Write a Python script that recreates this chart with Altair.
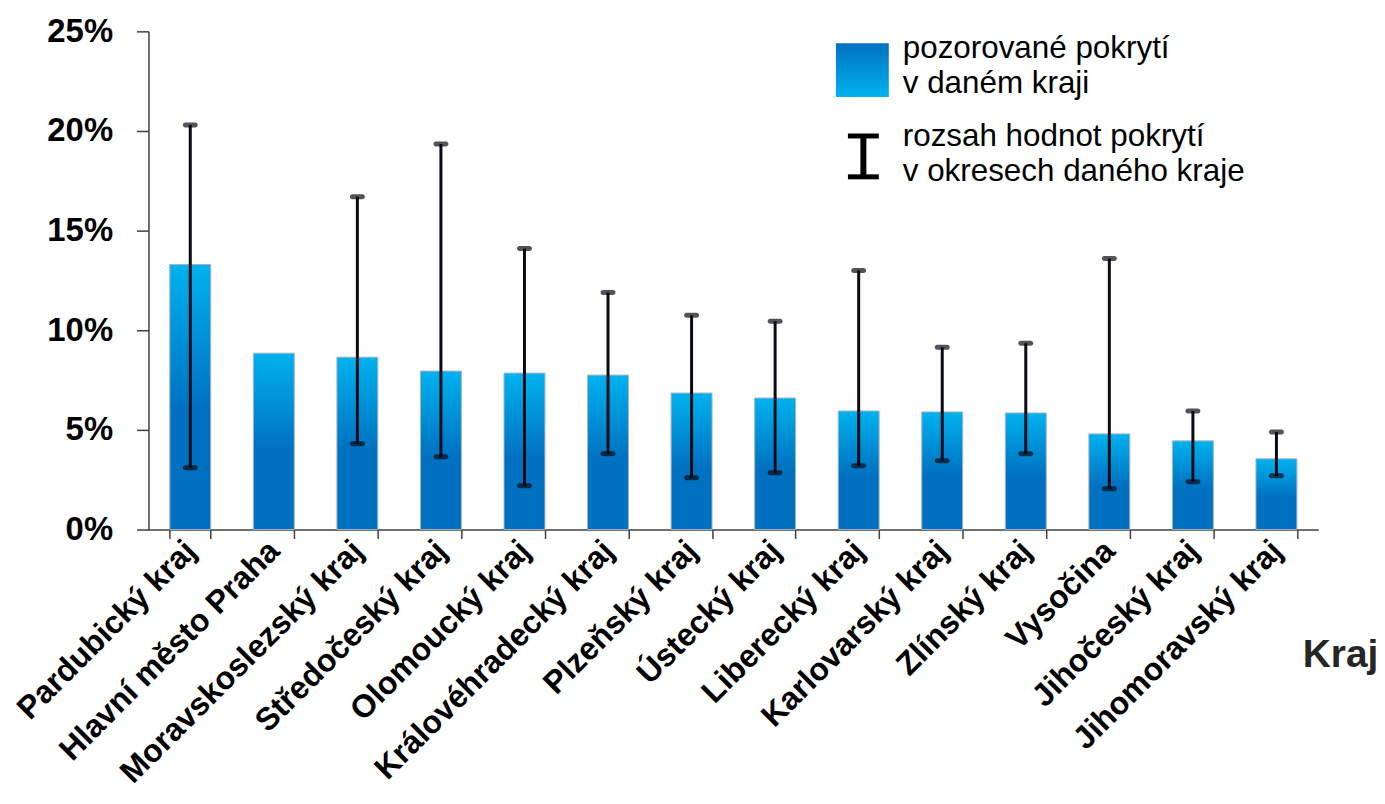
import altair as alt
import pandas as pd

regions = ["Pardubický kraj", "Hlavní město Praha", "Moravskoslezský kraj", "Středočeský kraj",
           "Olomoucký kraj", "Královéhradecký kraj", "Plzeňský kraj", "Ústecký kraj",
           "Liberecký kraj", "Karlovarský kraj", "Zlínský kraj", "Vysočina",
           "Jihočeský kraj", "Jihomoravský kraj"]
coverage = [13.3, 8.85, 8.65, 7.95, 7.85, 7.75, 6.85, 6.6, 5.95, 5.9, 5.85, 4.8, 4.45, 3.55]
range_low = [3.1, None, 4.3, 3.65, 2.2, 3.8, 2.6, 2.85, 3.2, 3.45, 3.8, 2.05, 2.4, 2.7]
range_high = [20.3, None, 16.7, 19.35, 14.1, 11.9, 10.75, 10.45, 13.0, 9.15, 9.35, 13.6, 5.95, 4.9]
y_ticks = [0, 5, 10, 15, 20, 25]

legend_text_1 = ["pozorované pokrytí", "v daném kraji"]
legend_text_2 = ["rozsah hodnot pokrytí", "v okresech daného kraje"]

df = pd.DataFrame({"kraj": regions, "pokryti": coverage, "low": range_low, "high": range_high})
err = df.dropna()

LIGHT = "#00b2ef"
DARK = "#0070c0"

bar_grad = alt.Gradient(
    gradient="linear", x1=0, y1=0, x2=0, y2=1,
    stops=[alt.GradientStop(color=LIGHT, offset=0),
           alt.GradientStop(color=DARK, offset=0.55),
           alt.GradientStop(color=DARK, offset=1)])
legend_grad = alt.Gradient(
    gradient="linear", x1=0, y1=0, x2=0, y2=1,
    stops=[alt.GradientStop(color=DARK, offset=0),
           alt.GradientStop(color=LIGHT, offset=1)])

FONT = "Liberation Sans"

x_enc = alt.X("kraj:N", sort=regions,
              scale=alt.Scale(paddingInner=0.51, paddingOuter=0.255),
              axis=alt.Axis(title="Kraj", labelAngle=-45, labelFontSize=32, labelFontWeight="bold",
                            labelFont=FONT, labelColor="black", labelPadding=7,
                            labelBaseline="middle", labelLimit=0,
                            tickBand="extent", tickSize=9, tickColor="#404040", domainColor="#404040",
                            domainWidth=1.5, tickWidth=1.5, grid=False,
                            titleFont=FONT, titleFontSize=39, titleFontWeight="bold", titleColor="#262626",
                            titleAnchor="start", titleAlign="left", titleBaseline="alphabetic",
                            titleX=1158, titleY=137, labelOverlap=False))
y_scale = alt.Scale(domain=[0, 25], nice=False)

bars = alt.Chart(df).mark_bar(color=bar_grad, stroke="#a9b4bf", strokeWidth=1).encode(
    x=x_enc,
    y=alt.Y("pokryti:Q", scale=y_scale,
            axis=alt.Axis(title=None, values=y_ticks, labelExpr="datum.value + '%'",
                          labelFontSize=33, labelFontWeight="bold", labelFont=FONT, labelColor="black",
                          tickSize=12, labelPadding=24, tickColor="#404040", domainColor="#404040",
                          domainWidth=1.5, tickWidth=1.5, grid=False)),
)

rules = alt.Chart(err).mark_rule(color="#0a0a14", strokeWidth=3).encode(
    x=alt.X("kraj:N", sort=regions), y=alt.Y("low:Q", scale=y_scale), y2="high:Q")
caps_hi = alt.Chart(err).mark_tick(color="#0a0a14", thickness=5, size=15, cornerRadius=2.5).encode(
    x=alt.X("kraj:N", sort=regions), y=alt.Y("high:Q", scale=y_scale))
caps_lo = alt.Chart(err).mark_tick(color="#0a0a14", thickness=5, size=15, cornerRadius=2.5).encode(
    x=alt.X("kraj:N", sort=regions), y=alt.Y("low:Q", scale=y_scale))

# legend (decorative, pixel placed)
leg_sq = alt.Chart(pd.DataFrame({"a": [0]})).mark_rect(color=legend_grad).encode(
    x=alt.value(690), x2=alt.value(743), y=alt.value(12), y2=alt.value(66))
leg_t1 = alt.Chart(pd.DataFrame({"a": [0]})).mark_text(
    text=legend_text_1, align="left", baseline="alphabetic", fontSize=31.5, font=FONT,
    lineHeight=35, color="black").encode(x=alt.value(757), y=alt.value(27))
leg_t2 = alt.Chart(pd.DataFrame({"a": [0]})).mark_text(
    text=legend_text_2, align="left", baseline="alphabetic", fontSize=31.5, font=FONT,
    lineHeight=35, color="black").encode(x=alt.value(757), y=alt.value(115))
leg_v = alt.Chart(pd.DataFrame({"a": [0]})).mark_rule(color="black", strokeWidth=6).encode(
    x=alt.value(717.5), y=alt.value(103), y2=alt.value(148))
leg_c1 = alt.Chart(pd.DataFrame({"a": [0]})).mark_rule(color="black", strokeWidth=5).encode(
    x=alt.value(702), x2=alt.value(733), y=alt.value(105))
leg_c2 = alt.Chart(pd.DataFrame({"a": [0]})).mark_rule(color="black", strokeWidth=5).encode(
    x=alt.value(702), x2=alt.value(733), y=alt.value(146))

chart = alt.layer(bars, rules, caps_hi, caps_lo, leg_sq, leg_t1, leg_t2, leg_v, leg_c1, leg_c2).properties(
    width=1174, height=500,
    padding={"left": 141, "top": 22, "right": 59, "bottom": 268},
    autosize=alt.AutoSizeParams(type="none"),
).configure(background="white").configure_view(strokeWidth=0, stroke="transparent")

chart.save("out.html", embed_options={"renderer": "svg", "actions": False})
